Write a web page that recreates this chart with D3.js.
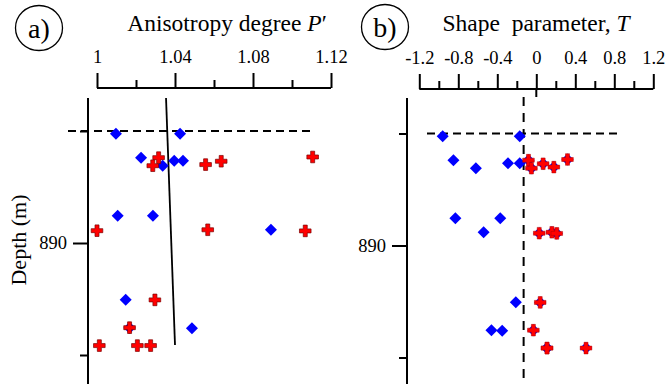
<!DOCTYPE html>
<html>
<head>
<meta charset="utf-8">
<script src="https://cdn.jsdelivr.net/npm/d3@7"></script>
<style>
  html, body { margin: 0; padding: 0; background: #fff; }
  svg { display: block; font-family: "Liberation Serif", "Times New Roman", serif; }
</style>
</head>
<body>
<svg id="chart" width="665" height="384"></svg>
<script>
// ---- data ----
const depth  = [889.512, 889.512, 889.619, 889.655, 889.633, 889.633, 889.619, 889.616, 889.655, 889.650, 889.635,
                889.878, 889.878, 889.941, 889.945, 889.941, 889.946, 890.253, 890.254, 890.378, 890.381, 890.378,
                890.458, 890.458, 890.458];
const pPrime = [1.0097, 1.0426, 1.0226, 1.0337, 1.0396, 1.0441, 1.0316, 1.1106, 1.0286, 1.0557, 1.0637,
                1.0106, 1.0287, 1.0892, 1.0000, 1.0568, 1.1068, 1.0147, 1.0297, 1.0167, 1.0487, 1.0167,
                1.0012, 1.0207, 1.0275];
const shapeT = [-0.96, -0.17, -0.85, -0.62, -0.29, -0.17, -0.08, 0.32, -0.05, 0.18, 0.07,
                -0.83, -0.37, -0.54, 0.03, 0.16, 0.21, -0.21, 0.04, -0.46, -0.35, -0.03,
                0.11, 0.51, 0.11];
const group  = ["b","b","b","b","b","b","r","r","r","r","r",
                "b","b","b","r","r","r","b","r","b","b","r",
                "r","r","r"];
const trendDepth = [889.353, 890.455];
const trendP     = [1.0354, 1.0400];
const refDepth = 889.5;      // horizontal dashed line
const refT = -0.13;          // vertical dashed line
const pMajor = [1, 1.04, 1.08, 1.12];
const pMinor = [1.02, 1.06, 1.10];
const tMajor = [-1.2, -0.8, -0.4, 0, 0.4, 0.8, 1.2];
const tMinor = [-1.0, -0.6, -0.2, 0.2, 0.6, 1.0];
const depthMajor = [890];
const depthMinor = [889.5, 890.5];

const svg = d3.select("#chart");
svg.append("rect").attr("width", 665).attr("height", 384).attr("fill", "#fff");

const pts = depth.map((d, i) => ({ d, p: pPrime[i], t: shapeT[i], g: group[i] }));

const diamond = "M0,-6L6,0L0,6L-6,0Z";
const plus = "M-2,-5.8H2V-2H5.8V2H2V5.8H-2V2H-5.8V-2H-2Z";

function fmt(v) { return String(+v.toFixed(2)); }

function panel(cfg) {
  const g = svg.append("g");
  const x = d3.scaleLinear().domain(cfg.xDomain).range(cfg.xRange);
  const y = d3.scaleLinear().domain([889.5, 890.5]).range(cfg.yRange);

  // top axis
  const top = g.append("g").attr("transform", `translate(0,${cfg.topY})`);
  top.append("g").call(d3.axisTop(x).tickValues(cfg.major).tickSize(15).tickSizeOuter(0).tickPadding(10).tickFormat(fmt));
  top.append("g").call(d3.axisTop(x).tickValues(cfg.minor).tickSize(8).tickSizeOuter(0).tickFormat(""));
  top.selectAll(".domain").remove();
  top.append("line").attr("x1", cfg.xRange[0]).attr("x2", cfg.xRange[1]).attr("stroke", "#000").attr("stroke-width", 2);
  top.selectAll(".tick line").attr("stroke", "#000").attr("stroke-width", 2);
  top.selectAll(".tick text").attr("font-size", 18.5).attr("fill", "#000")
     .attr("font-family", "Liberation Serif, Times New Roman, serif");
  if (cfg.zeroDown) {
    top.append("line").attr("x1", x(0)).attr("x2", x(0)).attr("y1", 0).attr("y2", 8)
       .attr("stroke", "#000").attr("stroke-width", 2);
  }

  // left axis
  const left = g.append("g").attr("transform", `translate(${cfg.leftX},0)`);
  left.append("g").call(d3.axisLeft(y).tickValues(depthMajor).tickSize(15).tickSizeOuter(0).tickPadding(6).tickFormat(d3.format("d")));
  left.append("g").call(d3.axisLeft(y).tickValues(depthMinor).tickSize(8).tickSizeOuter(0).tickFormat(""));
  left.selectAll(".domain").remove();
  left.append("line").attr("y1", 98).attr("y2", 384).attr("stroke", "#000").attr("stroke-width", 2);
  left.selectAll(".tick line").attr("stroke", "#000").attr("stroke-width", 2);
  left.selectAll(".tick text").attr("font-size", 18.5).attr("fill", "#000")
      .attr("font-family", "Liberation Serif, Times New Roman, serif");

  // dashed reference lines
  g.append("line").attr("x1", cfg.hx[0]).attr("x2", cfg.hx[1]).attr("y1", y(refDepth)).attr("y2", y(refDepth))
   .attr("stroke", "#000").attr("stroke-width", 2).attr("stroke-dasharray", "8,5");
  if (cfg.vline) {
    g.append("line").attr("x1", x(refT)).attr("x2", x(refT)).attr("y1", 97).attr("y2", 384)
     .attr("stroke", "#000").attr("stroke-width", 2).attr("stroke-dasharray", "9,7");
  }
  if (cfg.trend) {
    g.append("line").attr("x1", x(trendP[0])).attr("y1", y(trendDepth[0]))
     .attr("x2", x(trendP[1])).attr("y2", y(trendDepth[1]))
     .attr("stroke", "#000").attr("stroke-width", 1.8);
  }

  // markers
  const acc = cfg.acc;
  if (cfg.mode === "a") {
    g.selectAll(".dia").data(pts.filter(p => p.g === "b")).join("path")
     .attr("d", diamond).attr("fill", "#0000ff")
     .attr("transform", p => `translate(${x(acc(p))},${y(p.d)})`);
    g.selectAll(".pl").data(pts.filter(p => p.g === "r")).join("path")
     .attr("d", plus).attr("fill", "#ff0000").attr("stroke", "#7a0000").attr("stroke-width", 0.7)
     .attr("transform", p => `translate(${x(acc(p))},${y(p.d)})`);
  } else {
    g.selectAll(".dia").data(pts).join("path")
     .attr("d", diamond).attr("fill", "#0000ff")
     .attr("transform", p => `translate(${x(acc(p))},${y(p.d)})`);
    g.selectAll(".pl").data(pts.filter(p => p.g === "r")).join("path")
     .attr("d", plus).attr("fill", "#ff0000").attr("stroke", "#aa0000").attr("stroke-width", 0.5)
     .attr("transform", p => `translate(${x(acc(p))},${y(p.d)})`);
  }
}

panel({ xDomain: [1, 1.12], xRange: [97, 331], yRange: [131, 355], topY: 88, leftX: 88,
        major: pMajor, minor: pMinor, hx: [68, 312], trend: true, mode: "a", acc: p => p.p });
panel({ xDomain: [-1.2, 1.2], xRange: [419.3, 653.3], yRange: [133.5, 357.5], topY: 89, leftX: 407,
        major: tMajor, minor: tMinor, hx: [427, 622], vline: true, zeroDown: true, mode: "b", acc: p => p.t });

// titles
const t1 = svg.append("text").attr("x", 227).attr("y", 31).attr("text-anchor", "middle")
  .attr("font-size", 23.5).attr("fill", "#000");
t1.append("tspan").text("Anisotropy degree ");
t1.append("tspan").attr("font-style", "italic").text("P");
t1.append("tspan").text("\u2032");

const t2 = svg.append("text").attr("x", 536).attr("y", 31).attr("text-anchor", "middle")
  .attr("font-size", 23.5).attr("fill", "#000");
t2.append("tspan").text("Shape\u00a0 parameter, ");
t2.append("tspan").attr("font-style", "italic").text("T");

svg.append("text").attr("transform", "translate(26,240) rotate(-90)").attr("text-anchor", "middle")
  .attr("font-size", 22).attr("fill", "#000").text("Depth (m)");

// panel labels
[[39, 28, "a)"], [385, 27, "b)"]].forEach(([cx, cy, s]) => {
  svg.append("ellipse").attr("cx", cx).attr("cy", cy).attr("rx", 23.5).attr("ry", 22.5)
     .attr("fill", "none").attr("stroke", "#000").attr("stroke-width", 1.3);
  svg.append("text").attr("x", cx).attr("y", cy + 9.5).attr("text-anchor", "middle")
     .attr("font-size", 28).attr("fill", "#000").text(s);
});
</script>
</body>
</html>
